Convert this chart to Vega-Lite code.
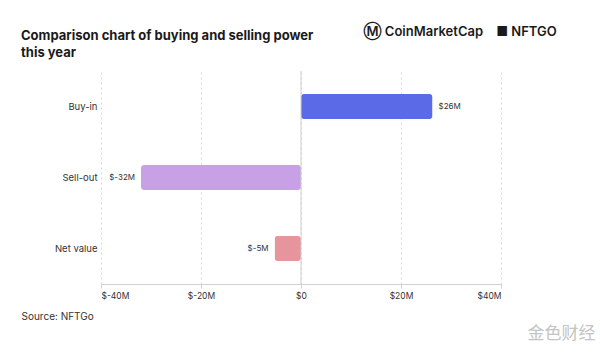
{
  "$schema": "https://vega.github.io/schema/vega-lite/v6.json",
  "width": 400,
  "height": 213,
  "autosize": {"type": "none"},
  "padding": {"left": 101, "top": 71, "right": 99, "bottom": 73},
  "background": "white",
  "config": {"view": {"stroke": null}, "font": "Inter"},
  "title": {
    "text": ["Comparison chart of buying and selling power", "this year"],
    "anchor": "start",
    "frame": "group",
    "dx": -80,
    "dy": 45,
    "offset": 10,
    "baseline": "top",
    "fontSize": 13,
    "fontWeight": "bold",
    "color": "#1a1a1a",
    "lineHeight": 17,
    "font": "Inter"
  },
  "data": {
    "values": [
      {"category": "Buy-in", "value": 26.3, "label": "$26M"},
      {"category": "Sell-out", "value": -32, "label": "$-32M"},
      {"category": "Net value", "value": -5.3, "label": "$-5M"}
    ]
  },
  "layer": [
    {
      "layer": [
        {
          "mark": {"type": "bar", "cornerRadius": 3},
          "encoding": {
            "y": {
              "field": "category",
              "type": "nominal",
              "sort": ["Buy-in", "Sell-out", "Net value"],
              "scale": {"paddingInner": 0.65, "paddingOuter": 0.325},
              "axis": {
                "title": "Ⓜ CoinMarketCap\u00a0\u00a0\u00a0\u00a0■ NFTGO",
                "titleX": 262,
                "titleY": -40,
                "titleAngle": 0,
                "titleAlign": "left",
                "titleBaseline": "middle",
                "titleFontSize": 13,
                "titleFontWeight": 600,
                "titleColor": "#1a1a1a",
                "domain": false,
                "ticks": false,
                "labelPadding": 4,
                "labelFontSize": 9.5,
                "labelColor": "#333",
                "labelFont": "Inter"
              }
            },
            "x": {
              "field": "value",
              "type": "quantitative",
              "scale": {"domain": [-40, 40]},
              "axis": {
                "values": [-40, -20, 0, 20, 40],
                "labelExpr": "datum.value < 0 ? '$-' + abs(datum.value) + 'M' : (datum.value == 0 ? '$0' : '$' + datum.value + 'M')",
                "labelFontSize": 8.5,
                "labelColor": "#333",
                "labelPadding": 3,
                "domainColor": "#d0d0d0",
                "tickColor": "#d0d0d0",
                "tickSize": 4,
                "gridColor": "#d8d8d8",
                "gridDash": [2, 3],
                "title": "Source: NFTGo",
                "titleX": -80,
                "titleY": 32,
                "titleAlign": "left",
                "titleBaseline": "middle",
                "titleFontSize": 10,
                "titleFontWeight": "normal",
                "titleColor": "#333"
              }
            },
            "color": {
              "field": "category",
              "type": "nominal",
              "scale": {
                "domain": ["Buy-in", "Sell-out", "Net value"],
                "range": ["#5B6BE8", "#C8A0E6", "#E6959C"]
              },
              "legend": null
            }
          }
        },
        {
          "mark": {"type": "text", "fontSize": 8, "color": "#333", "dx": 6, "align": "left"},
          "transform": [{"filter": "datum.value > 0"}],
          "encoding": {
            "y": {"field": "category", "type": "nominal", "sort": ["Buy-in", "Sell-out", "Net value"]},
            "x": {"field": "value", "type": "quantitative"},
            "text": {"field": "label"}
          }
        },
        {
          "mark": {"type": "text", "fontSize": 8, "color": "#333", "dx": -6, "align": "right"},
          "transform": [{"filter": "datum.value < 0"}],
          "encoding": {
            "y": {"field": "category", "type": "nominal", "sort": ["Buy-in", "Sell-out", "Net value"]},
            "x": {"field": "value", "type": "quantitative"},
            "text": {"field": "label"}
          }
        }
      ]
    },
    {
      "data": {"values": [{"zero": 0}]},
      "mark": {"type": "rule", "color": "#cfcfcf", "strokeWidth": 1},
      "encoding": {
        "x": {
          "field": "zero",
          "type": "quantitative",
          "scale": {"domain": [-40, 40]},
          "axis": {
            "orient": "top",
            "labels": false,
            "ticks": false,
            "domain": false,
            "grid": false,
            "title": "金色财经",
            "titleX": 460,
            "titleY": 262,
            "titleAlign": "center",
            "titleBaseline": "middle",
            "titleFontSize": 17,
            "titleFontWeight": "normal",
            "titleFont": "Noto Sans CJK SC",
            "titleColor": "#c4c4c4"
          }
        }
      }
    }
  ],
  "resolve": {"scale": {"x": "independent"}, "axis": {"x": "independent"}}
}
